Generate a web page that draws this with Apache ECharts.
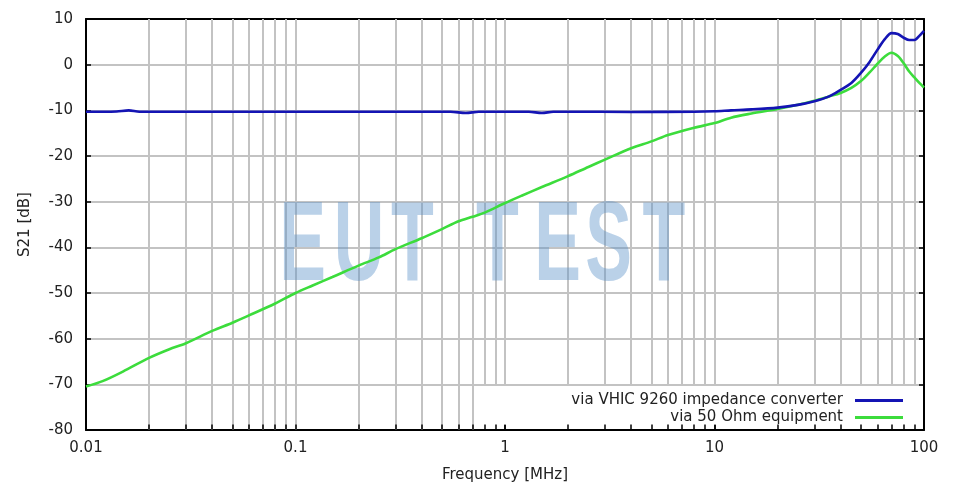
<!DOCTYPE html>
<html>
<head>
<meta charset="utf-8">
<script src="https://cdn.jsdelivr.net/npm/echarts@6/dist/echarts.min.js"></script>
<style>
html,body{margin:0;padding:0;background:#fff;}
#chart{width:953px;height:485px;}
</style>
</head>
<body>
<div id="chart"></div>
<script>
// ---- data ----
const seriesNames = ['via VHIC 9260 impedance converter', 'via 50 Ohm equipment'];

const vhicFreq = [0.01, 0.012, 0.014, 0.016, 0.018, 0.02, 0.03, 0.05, 0.1, 0.2, 0.4, 0.55, 0.65, 0.75, 1, 1.3, 1.5, 1.7, 2, 4, 8, 10, 12, 15, 20, 25, 30, 35, 40, 45, 50, 55, 60, 65, 70, 75, 80, 85, 90, 95, 100];
const vhicDb   = [-10.3, -10.3, -10.25, -10.0, -10.3, -10.3, -10.3, -10.3, -10.3, -10.3, -10.3, -10.3, -10.6, -10.3, -10.3, -10.3, -10.6, -10.3, -10.3, -10.35, -10.3, -10.2, -10.0, -9.8, -9.4, -8.8, -8.0, -7.0, -5.5, -4.0, -1.8, 0.6, 3.3, 5.6, 6.9, 6.7, 5.9, 5.4, 5.4, 6.3, 7.4];

const ohmFreq = [0.01, 0.012, 0.015, 0.02, 0.025, 0.03, 0.04, 0.05, 0.06, 0.08, 0.1, 0.12, 0.15, 0.2, 0.25, 0.3, 0.4, 0.5, 0.6, 0.7, 0.8, 1, 1.2, 1.5, 2, 2.5, 3, 4, 5, 6, 8, 10, 12, 15, 20, 25, 30, 35, 40, 45, 50, 55, 60, 65, 70, 75, 80, 85, 90, 95, 100];
const ohmDb   = [-70.5, -69.3, -67.2, -64.2, -62.3, -61.0, -58.3, -56.5, -54.9, -52.3, -50.0, -48.4, -46.5, -44.0, -42.2, -40.4, -38.0, -36.0, -34.3, -33.3, -32.4, -30.3, -28.7, -26.8, -24.4, -22.4, -20.8, -18.3, -16.8, -15.4, -13.8, -12.8, -11.6, -10.7, -9.7, -8.8, -7.9, -7.0, -6.2, -5.1, -3.6, -1.7, 0.2, 1.8, 2.6, 1.9, 0.3, -1.5, -2.8, -4.0, -5.0];

const xTickLabels = ['0.01', '0.1', '1', '10', '100'];
const yMin = -80, yMax = 10, yStep = 10;
const gridFreqs = [];
[0.01, 0.1, 1, 10].forEach(d => { for (let k = 1; k <= 9; k++) gridFreqs.push(+(d * k).toPrecision(3)); });
const decadeFreqs = [0.1, 1, 10];
const legendBoxFreq = 0.8;     // grid lines from here on stop at the legend box
const legendBoxTop = -70.3;

// ---- build ----
const blueColor = '#1414b4';
const greenColor = '#3cdc3c';
const gridColor = '#c3c3c3';
const FONT = 'DejaVu Sans';

const inner = gridFreqs.filter(f => f > 0.01);
const gridLines = inner.map(f => [{coord: [f, f >= legendBoxFreq ? legendBoxTop : yMin]}, {coord: [f, yMax]}]);
const bottomTicks = inner.map(f => [{coord: [f, yMin], lineStyle: {color: '#000', width: 1.5}}, {coord: [f, yMin + 1.2]}]);

const chart = echarts.init(document.getElementById('chart'), null, {renderer: 'canvas'});

const lettersA = [['E', 302.5], ['U', 359], ['T', 412.5], ['T', 497.5], ['E', 557.5], ['S', 608.5], ['T', 664]];

const option = {
  animation: false,
  backgroundColor: '#fff',
  textStyle: {fontFamily: FONT},
  grid: {left: 86, right: 29, top: 19, bottom: 55, containLabel: false, outerBoundsMode: 'none'},
  xAxis: [{
    type: 'log', logBase: 10, min: 0.01, max: 100, position: 'bottom',
    name: 'Frequency [MHz]', nameLocation: 'middle', nameGap: 38,
    nameTextStyle: {fontFamily: FONT, fontSize: 15, color: '#222'},
    axisLine: {show: true, onZero: false, lineStyle: {color: '#000', width: 2}},
    axisTick: {show: true, inside: true, length: 5, lineStyle: {color: '#000', width: 1.5}},
    minorTick: {show: false},
    splitLine: {show: false},
    axisLabel: {
      margin: 11, fontFamily: FONT, fontSize: 15, color: '#222',
      formatter: v => xTickLabels[Math.round(Math.log10(v)) + 2] || ''
    }
  }, {
    type: 'log', logBase: 10, min: 0.01, max: 100, position: 'top',
    axisLine: {show: true, onZero: false, lineStyle: {color: '#000', width: 2}},
    axisTick: {show: true, inside: true, length: 5, lineStyle: {color: '#000', width: 1.5}},
    axisLabel: {show: false}, splitLine: {show: false}
  }],
  yAxis: [{
    type: 'value', min: yMin, max: yMax, interval: yStep, position: 'left',
    name: 'S21 [dB]', nameLocation: 'middle', nameGap: 53,
    nameTextStyle: {fontFamily: FONT, fontSize: 15, color: '#222'},
    axisLine: {show: true, onZero: false, lineStyle: {color: '#000', width: 2}},
    axisTick: {show: true, inside: true, length: 5, lineStyle: {color: '#000', width: 1.5}},
    splitLine: {show: true, lineStyle: {color: gridColor, width: 2}},
    axisLabel: {margin: 13, fontFamily: FONT, fontSize: 15, color: '#222'}
  }, {
    type: 'value', min: yMin, max: yMax, interval: yStep, position: 'right',
    axisLine: {show: true, onZero: false, lineStyle: {color: '#000', width: 2}},
    axisTick: {show: true, inside: true, length: 5, lineStyle: {color: '#000', width: 1.5}},
    splitLine: {show: false}, axisLabel: {show: false}
  }],
  legend: [{
    data: [seriesNames[0]], right: 50, top: 393, padding: 0, align: 'right', z: 12,
    icon: 'rect', itemWidth: 48, itemHeight: 3,
    textStyle: {fontFamily: FONT, fontSize: 15, color: '#222', padding: [0, 7, 0, 0]}
  }, {
    data: [seriesNames[1]], right: 50, top: 410, padding: 0, align: 'right', z: 12,
    icon: 'rect', itemWidth: 48, itemHeight: 3,
    textStyle: {fontFamily: FONT, fontSize: 15, color: '#222', padding: [0, 7, 0, 0]}
  }],
  graphic: {
    z: 2,
    elements: lettersA.map(([ch, cx]) => ({
      type: 'text', z: 2, silent: true, x: cx, y: 249, scaleX: 0.62,
      style: {text: ch, font: 'bold 113px "Liberation Sans"', textAlign: 'center', textVerticalAlign: 'middle', fill: 'rgba(90,145,200,0.42)'}
    }))
  },
  series: [{
    name: '_grid', type: 'line', data: [], z: 1, silent: true,
    markLine: {z: 1, silent: true, symbol: 'none', label: {show: false}, animation: false,
      emphasis: {disabled: true},
      lineStyle: {color: gridColor, width: 2, type: 'solid'}, data: gridLines.concat(bottomTicks)}
  }, {
    name: seriesNames[0], type: 'line', z: 5, showSymbol: false, symbol: 'none', smooth: 0.3,
    data: vhicFreq.map((f, i) => [f, vhicDb[i]]),
    lineStyle: {color: blueColor, width: 2.6}, itemStyle: {color: blueColor}
  }, {
    name: seriesNames[1], type: 'line', z: 4, showSymbol: false, symbol: 'none', smooth: 0.3,
    data: ohmFreq.map((f, i) => [f, ohmDb[i]]),
    lineStyle: {color: greenColor, width: 2.6}, itemStyle: {color: greenColor}
  }]
};
chart.setOption(option);
</script>
</body>
</html>
